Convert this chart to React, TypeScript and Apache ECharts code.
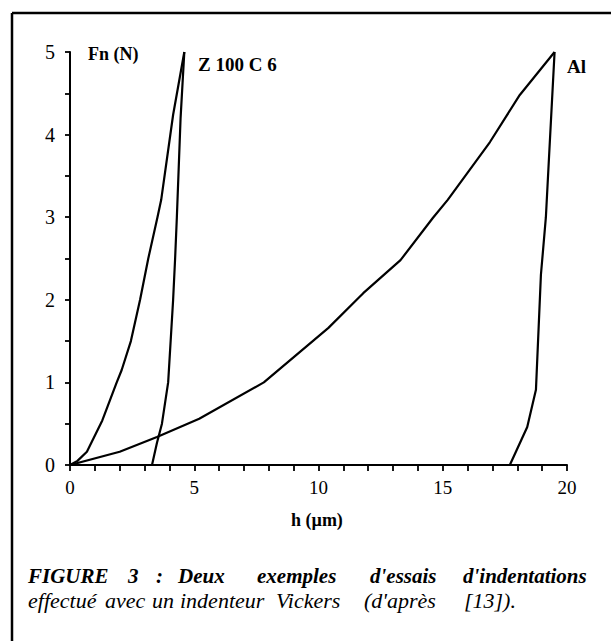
import React, { useEffect, useRef } from "react";
import * as echarts from "echarts";

const xTicks = [0, 5, 10, 15, 20];
const yTicks = [0, 1, 2, 3, 4, 5];

const zLoading: [number, number][] = [
  [0, 0], [0.3, 0.05], [0.68, 0.16], [1.3, 0.54], [1.88, 1.0], [2.08, 1.15], [2.45, 1.5],
  [2.82, 2.0], [3.15, 2.5], [3.52, 3.0], [3.67, 3.21], [4.15, 4.24], [4.6, 5.0],
];
const zUnloading: [number, number][] = [
  [4.6, 5.0], [4.45, 4.2], [4.3, 3.0], [4.23, 2.5], [4.15, 2.0], [3.95, 1.0], [3.7, 0.5], [3.5, 0.27], [3.3, 0.0],
];
const alLoading: [number, number][] = [
  [0, 0], [2.0, 0.16], [3.5, 0.34], [5.2, 0.56], [7.8, 1.0], [10.4, 1.66], [11.8, 2.08],
  [13.3, 2.48], [14.6, 2.99], [15.2, 3.21], [16.9, 3.91], [18.1, 4.48], [19.5, 5.0],
];
const alUnloading: [number, number][] = [
  [19.5, 5.0], [19.27, 3.69], [19.15, 3.0], [18.95, 2.3], [18.75, 0.91], [18.4, 0.46], [17.7, 0.0],
];

const seriesList = [
  { name: "Z 100 C 6 charge", data: zLoading },
  { name: "Z 100 C 6 décharge", data: zUnloading },
  { name: "Al charge", data: alLoading },
  { name: "Al décharge", data: alUnloading },
];

const captionLine1 = [
  { t: "FIGURE", x: 28 },
  { t: "3", x: 128 },
  { t: ":", x: 156 },
  { t: "Deux", x: 178 },
  { t: "exemples", x: 257 },
  { t: "d'essais", x: 370 },
  { t: "d'indentations", x: 463 },
];
const captionLine2 = [
  { t: "effectué", x: 28 },
  { t: "avec", x: 105 },
  { t: "un", x: 152 },
  { t: "indenteur", x: 180 },
  { t: "Vickers", x: 276 },
  { t: "(d'après", x: 364 },
  { t: "[13]).", x: 464 },
];

const SERIF = "Liberation Serif, Tinos, Times New Roman, serif";

export default function App() {
  const ref = useRef<HTMLDivElement>(null);
  useEffect(() => {
    if (!ref.current) return;
    const chart = echarts.init(ref.current, null, { renderer: "svg" });
    const txt = (text: string, left: number, top: number, size: number, weight: string, style: string) => ({
      type: "text",
      left,
      top,
      style: { text, fontFamily: SERIF, fontSize: size, fontWeight: weight, fontStyle: style, fill: "#000" },
    });
    chart.setOption({
      animation: false,
      backgroundColor: "#ffffff",
      textStyle: { fontFamily: SERIF },
      grid: { left: 70, right: 44, top: 52, bottom: 176, containLabel: false },
      xAxis: [
        {
          type: "value",
          min: 0,
          max: 20,
          interval: 1,
          position: "bottom",
          axisLine: { show: true, lineStyle: { color: "#000", width: 2 } },
          axisTick: { show: true, interval: 0, length: 6, lineStyle: { color: "#000", width: 1.8 } },
          splitLine: { show: false },
          axisLabel: {
            interval: 0,
            hideOverlap: false,
            color: "#000",
            fontFamily: SERIF,
            fontSize: 19,
            margin: 13,
            formatter: (v: number) => (xTicks.includes(v) ? String(v) : ""),
          },
        },
      ],
      yAxis: [
        {
          type: "value",
          min: 0,
          max: 5,
          interval: 0.5,
          position: "left",
          axisLine: { show: true, lineStyle: { color: "#000", width: 2 } },
          axisTick: { show: true, interval: 0, length: 5, lineStyle: { color: "#000", width: 1.8 } },
          splitLine: { show: false },
          axisLabel: {
            interval: 0,
            color: "#000",
            fontFamily: SERIF,
            fontSize: 20,
            margin: 15,
            formatter: (v: number) => (yTicks.includes(v) ? String(v) : ""),
          },
        },
      ],
      series: seriesList.map((s) => ({
        name: s.name,
        type: "line",
        data: s.data,
        showSymbol: false,
        symbol: "none",
        smooth: false,
        lineStyle: { color: "#000", width: 2.2 },
      })),
      graphic: [
        { type: "line", shape: { x1: 12, y1: 13, x2: 611, y2: 13 }, style: { stroke: "#000", lineWidth: 2.5 } },
        { type: "line", shape: { x1: 12, y1: 13, x2: 12, y2: 641 }, style: { stroke: "#000", lineWidth: 2.5 } },
        txt("Fn (N)", 88, 45, 18, "bold", "normal"),
        txt("Z 100 C 6", 198, 55, 19, "bold", "normal"),
        txt("Al", 567, 57, 19, "bold", "normal"),
        txt("h (µm)", 291, 511, 18, "bold", "normal"),
        ...captionLine1.map((w) => txt(w.t, w.x, 565, 21, "bold", "italic")),
        ...captionLine2.map((w) => txt(w.t, w.x, 589, 22, "normal", "italic")),
      ],
    });
    return () => chart.dispose();
  }, []);
  return (
    <div
      ref={ref}
      style={{ position: "absolute", left: 0, top: 0, width: 611, height: 641, background: "#fff" }}
    />
  );
}
